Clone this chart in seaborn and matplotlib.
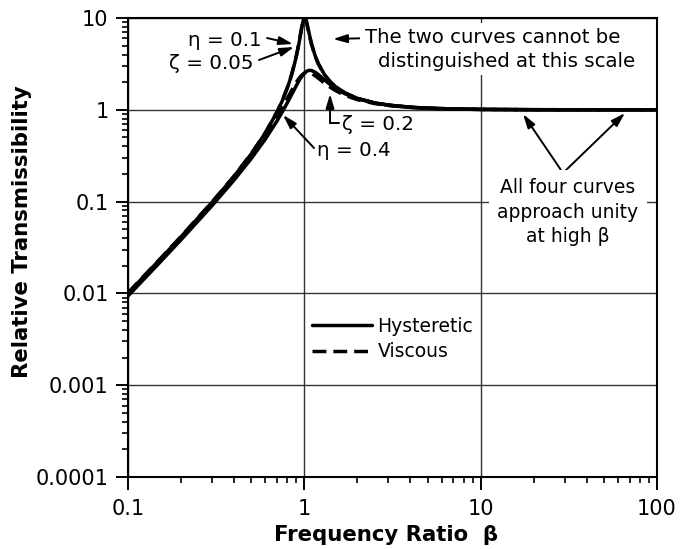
import numpy as np
import pandas as pd
import matplotlib
matplotlib.use("Agg")
import matplotlib.pyplot as plt
from matplotlib import ticker
from matplotlib.lines import Line2D
import seaborn as sns

# ---- data ----
beta = [0.1, 0.15, 0.2, 0.3, 0.4, 0.5, 0.6, 0.7, 0.75, 0.8, 0.85, 0.9, 0.93, 0.95,
        0.97, 0.98, 0.99, 0.995, 1.0, 1.005, 1.01, 1.02, 1.03, 1.05, 1.07, 1.1, 1.15,
        1.2, 1.3, 1.4, 1.5, 1.7, 2.0, 2.5, 3.0, 4.0, 5.0, 7.0, 10.0, 20.0, 50.0, 100.0]
hyst_eta_01 = [0.01005, 0.0229, 0.04144, 0.09831, 0.1891, 0.3304, 0.5558, 0.9428, 1.253,
               1.713, 2.449, 3.773, 5.146, 6.462, 8.100, 8.930, 9.613, 9.851, 10.0, 10.05,
               10.0, 9.647, 9.061, 7.699, 6.503, 5.202, 3.917, 3.191, 2.424, 2.031, 1.794,
               1.527, 1.333, 1.190, 1.125, 1.067, 1.042, 1.021, 1.010, 1.0025, 1.0004, 1.0001]
visc_zeta_005 = [0.0101, 0.02302, 0.04166, 0.09885, 0.1903, 0.3326, 0.5600, 0.9519, 1.267,
                 1.735, 2.489, 3.853, 5.273, 6.630, 8.283, 9.086, 9.706, 9.900, 10.0, 10.0,
                 9.906, 9.483, 8.866, 7.514, 6.356, 5.104, 3.863, 3.157, 2.407, 2.020, 1.787,
                 1.523, 1.330, 1.189, 1.124, 1.066, 1.041, 1.021, 1.010, 1.0025, 1.0004, 1.0001]
hyst_eta_04 = [0.009366, 0.0213, 0.03846, 0.09054, 0.172, 0.2941, 0.477, 0.756, 0.9489,
               1.189, 1.484, 1.829, 2.049, 2.192, 2.327, 2.389, 2.447, 2.474, 2.5, 2.524,
               2.547, 2.588, 2.622, 2.670, 2.691, 2.678, 2.574, 2.422, 2.119, 1.885, 1.714,
               1.496, 1.322, 1.187, 1.124, 1.066, 1.042, 1.021, 1.010, 1.0025, 1.0004, 1.0001]
visc_zeta_02 = [0.01009, 0.02297, 0.04152, 0.09805, 0.1871, 0.3221, 0.5267, 0.8422, 1.060,
                1.329, 1.646, 1.990, 2.185, 2.301, 2.397, 2.438, 2.472, 2.487, 2.5, 2.512,
                2.522, 2.538, 2.547, 2.550, 2.534, 2.482, 2.354, 2.212, 1.956, 1.764, 1.623,
                1.439, 1.288, 1.170, 1.113, 1.061, 1.038, 1.019, 1.009, 1.0023, 1.0004, 1.0001]

x_ticks = [0.1, 1, 10, 100]
y_ticks = [0.0001, 0.001, 0.01, 0.1, 1, 10]

df = pd.DataFrame({
    "beta": beta * 4,
    "T": hyst_eta_01 + visc_zeta_005 + hyst_eta_04 + visc_zeta_02,
    "curve": (["eta01"] * len(beta) + ["zeta005"] * len(beta)
              + ["eta04"] * len(beta) + ["zeta02"] * len(beta)),
})

sns.set_theme(style="white")
plt.rcParams["font.family"] = ["DejaVu Sans"]
plt.rcParams["text.color"] = "black"
plt.rcParams["axes.labelcolor"] = "black"

fig = plt.figure(figsize=(6.92, 5.49), dpi=100)
ax = fig.add_axes([128 / 692, 1 - 477 / 549, 529 / 692, 459 / 549])

dash = (0, (4.0, 2.0))
lw = 2.5
for name, ls in [("eta01", "-"), ("zeta005", dash), ("eta04", "-"), ("zeta02", dash)]:
    sub = df[df["curve"] == name]
    sns.lineplot(data=sub, x="beta", y="T", ax=ax, color="black", lw=lw,
                 linestyle=ls, legend=False, zorder=4, sort=False)

ax.set_xscale("log")
ax.set_yscale("log")
ax.set_xlim(0.1, 100)
ax.set_ylim(0.0001, 10)
ax.set_xticks(x_ticks)
ax.set_yticks(y_ticks)
fmt = ticker.FuncFormatter(lambda v, p: "{:g}".format(v))
ax.xaxis.set_major_formatter(fmt)
ax.yaxis.set_major_formatter(fmt)
ax.xaxis.set_minor_locator(ticker.LogLocator(base=10, subs=np.arange(2, 10)))
ax.yaxis.set_minor_locator(ticker.LogLocator(base=10, subs=np.arange(2, 10)))
ax.xaxis.set_minor_formatter(ticker.NullFormatter())
ax.yaxis.set_minor_formatter(ticker.NullFormatter())

ax.tick_params(axis="both", which="major", direction="out", length=9, width=1.4,
               color="black", labelsize=15, labelcolor="black",
               bottom=True, left=True, top=False, right=False)
ax.tick_params(axis="both", which="minor", direction="out", length=4.5, width=1.2,
               color="black", bottom=True, left=True, top=False, right=False)
ax.tick_params(axis="x", which="major", pad=6.5)
ax.tick_params(axis="y", which="major", pad=5)

ax.grid(True, which="major", color="#333333", lw=1.0)
ax.grid(False, which="minor")
for s in ax.spines.values():
    s.set_color("black")
    s.set_linewidth(1.5)
    s.set_visible(True)

ax.set_xlabel("Frequency Ratio  β", fontsize=15.3, fontweight="bold", labelpad=5, color="black")
ax.set_ylabel("Relative Transmissibility", fontsize=15.3, fontweight="bold", labelpad=3, color="black")
ax.xaxis.label.set_x(0.4887)
ax.yaxis.label.set_y(0.534)

# ---- annotations (axes fraction coordinates) ----
tfs = 13.5
aprops = dict(arrowstyle="-|>,head_length=0.6,head_width=0.18", color="black", lw=1.4,
              mutation_scale=14, shrinkA=0, shrinkB=0)
white = dict(boxstyle="square,pad=0.25", fc="white", ec="none")

ax.text(0.2533, 0.952, "η = 0.1", transform=ax.transAxes, ha="right", va="center",
        fontsize=14.3, zorder=5)
ax.text(0.2363, 0.8998, "ζ = 0.05", transform=ax.transAxes, ha="right", va="center",
        fontsize=14.3, zorder=5)
ax.annotate("", xy=(0.3119, 0.9434), xytext=(0.2628, 0.9564), xycoords="axes fraction",
            arrowprops=aprops)
ax.annotate("", xy=(0.3138, 0.9368), xytext=(0.2476, 0.9085), xycoords="axes fraction",
            arrowprops=aprops)

ax.text(0.448, 0.9586, "The two curves cannot be", transform=ax.transAxes, ha="left",
        va="center", fontsize=14.2, bbox=white, zorder=5)
ax.text(0.4726, 0.9063, "distinguished at this scale", transform=ax.transAxes, ha="left",
        va="center", fontsize=14.2, bbox=white, zorder=5)
ax.annotate("", xy=(0.3875, 0.9542), xytext=(0.446, 0.956), xycoords="axes fraction",
            arrowprops=aprops)

ax.text(0.4045, 0.7669, "ζ = 0.2", transform=ax.transAxes, ha="left", va="center",
        fontsize=14.3, zorder=5)
ax.plot([0.3989, 0.3819], [0.7712, 0.7712], transform=ax.transAxes, color="black",
        lw=1.4, zorder=5)
ax.annotate("", xy=(0.3819, 0.8345), xytext=(0.3819, 0.7712), xycoords="axes fraction",
            arrowprops=aprops)

ax.text(0.3573, 0.7124, "η = 0.4", transform=ax.transAxes, ha="left", va="center",
        fontsize=14.3, zorder=5)
ax.annotate("", xy=(0.293, 0.7887), xytext=(0.3516, 0.7168), xycoords="axes fraction",
            arrowprops=aprops)

ax.text(0.8318, 0.5773, "All four curves\napproach unity\nat high β", transform=ax.transAxes,
        ha="center", va="center", fontsize=tfs, linespacing=1.35,
        bbox=dict(boxstyle="square,pad=0.45", fc="white", ec="none"), zorder=5)
ax.annotate("", xy=(0.7467, 0.7908), xytext=(0.8223, 0.6623), xycoords="axes fraction",
            arrowprops=aprops)
ax.annotate("", xy=(0.9395, 0.793), xytext=(0.8223, 0.6623), xycoords="axes fraction",
            arrowprops=aprops)

handles = [Line2D([], [], color="black", lw=lw, linestyle="-"),
           Line2D([], [], color="black", lw=lw, linestyle=dash)]
leg = ax.legend(handles, ["Hysteretic", "Viscous"], loc="upper left",
                bbox_to_anchor=(0.3478, 0.349), frameon=False, fontsize=tfs,
                handlelength=3.2, handletextpad=0.3, labelspacing=0.35,
                borderpad=0, borderaxespad=0)
for t in leg.get_texts():
    t.set_color("black")

fig.savefig("out.png", dpi=100)
